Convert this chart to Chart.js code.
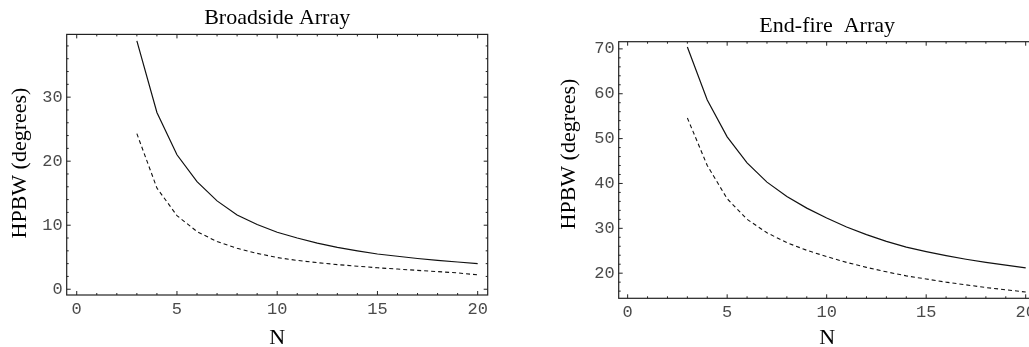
<!DOCTYPE html>
<html>
<head>
<meta charset="utf-8">
<script src="https://cdn.jsdelivr.net/npm/chart.js@4.4.1/dist/chart.umd.min.js"></script>
<style>
  html, body { margin: 0; padding: 0; background: #fff; width: 1029px; height: 347px; overflow: hidden; }
  .panel { position: absolute; top: 0; }
  #p_broad { left: 0; }
  #p_end { left: 520px; }
</style>
</head>
<body>
<div class="panel" id="p_broad"><canvas id="c_broad" width="520" height="347"></canvas></div>
<div class="panel" id="p_end"><canvas id="c_end" width="520" height="347"></canvas></div>
<script>
// HPBW vs number of elements N, for broadside and end-fire arrays
const nValues = [3, 4, 5, 6, 7, 8, 9, 10, 11, 12, 13, 14, 15, 16, 17, 18, 19, 20];

const broadsideSolid = [38.8, 27.6, 21.0, 16.8, 13.8, 11.6, 10.1, 8.9, 8.0, 7.2, 6.55, 6.0, 5.5, 5.15, 4.8, 4.5, 4.25, 4.0];
const broadsideDashed = [24.3, 15.8, 11.5, 9.0, 7.45, 6.4, 5.6, 4.95, 4.5, 4.15, 3.85, 3.6, 3.35, 3.15, 2.95, 2.75, 2.55, 2.25];

const endfireSolid = [70.4, 58.6, 50.4, 44.6, 40.3, 37.1, 34.5, 32.3, 30.3, 28.6, 27.1, 25.8, 24.8, 23.9, 23.1, 22.4, 21.8, 21.2];
const endfireDashed = [54.6, 44.0, 36.6, 32.0, 29.0, 26.8, 25.1, 23.7, 22.4, 21.3, 20.3, 19.4, 18.7, 18.0, 17.4, 16.8, 16.3, 15.8];

const xTicks = [0, 5, 10, 15, 20];
const broadYTicks = [0, 10, 20, 30];
const endYTicks = [20, 30, 40, 50, 60, 70];

const serif = 'Liberation Serif, Times New Roman, serif';
const mono = 'Liberation Mono, Courier New, monospace';

const pts = ys => nValues.map((n, i) => ({ x: n, y: ys[i] }));

// mathematica-style frame: box around the plot, small ticks pointing inward on all four sides
const framePlugin = {
  id: 'frame',
  afterDatasetsDraw(chart, args, o) {
    const { ctx, chartArea: a, scales } = chart;
    const x = scales.x, y = scales.y;
    ctx.save();
    ctx.strokeStyle = '#222';
    ctx.lineWidth = 1.2;
    ctx.strokeRect(a.left, a.top, a.right - a.left, a.bottom - a.top);
    ctx.lineWidth = 1;
    ctx.beginPath();
    for (let v = 0; v <= 20; v++) {
      const px = x.getPixelForValue(v);
      const len = v % 5 === 0 ? 4 : 2;
      ctx.moveTo(px, a.bottom); ctx.lineTo(px, a.bottom - len);
      ctx.moveTo(px, a.top); ctx.lineTo(px, a.top + len);
    }
    for (let v = o.yFrom; v <= o.yTo; v += 2) {
      const py = y.getPixelForValue(v);
      const len = v % 10 === 0 ? 4 : 2;
      ctx.moveTo(a.left, py); ctx.lineTo(a.left + len, py);
      ctx.moveTo(a.right, py); ctx.lineTo(a.right - len, py);
    }
    ctx.stroke();

    // rotated y caption
    ctx.fillStyle = '#000';
    ctx.font = '22px ' + serif;
    ctx.textAlign = 'center';
    ctx.textBaseline = 'middle';
    ctx.translate(o.captionX, o.captionY);
    ctx.rotate(-Math.PI / 2);
    ctx.fillText('HPBW (degrees)', 0, 0);
    ctx.restore();
  },
};

function makeChart(id, cfg) {
  return new Chart(document.getElementById(id), {
    type: 'scatter',
    data: {
      datasets: [
        { data: pts(cfg.solid), showLine: true, borderColor: '#111', borderWidth: 1.2, pointRadius: 0, tension: 0 },
        { data: pts(cfg.dashed), showLine: true, borderColor: '#111', borderWidth: 1.1, borderDash: [4, 3], pointRadius: 0, tension: 0 },
      ],
    },
    options: {
      responsive: false,
      animation: false,
      layout: { padding: { left: 0, right: cfg.padRight, top: 0, bottom: 0 } },
      plugins: {
        legend: { display: false },
        tooltip: { enabled: false },
        title: {
          display: true,
          text: cfg.title,
          fullSize: false,
          color: '#000',
          font: { family: serif, size: 22, weight: 'normal' },
          padding: cfg.titlePad,
        },
        frame: cfg.frame,
      },
      scales: {
        x: {
          type: 'linear',
          min: cfg.xMin,
          max: 20.5,
          grid: { display: false, drawTicks: false },
          border: { display: false },
          afterBuildTicks: s => { s.ticks = xTicks.map(v => ({ value: v })); },
          afterFit: s => { s.height = cfg.xHeight; },
          ticks: { color: '#4a4a4a', padding: 4, font: { family: mono, size: 17 } },
          title: {
            display: true,
            text: 'N',
            color: '#000',
            font: { family: serif, size: 22, lineHeight: 0.8 },
            padding: 0,
          },
        },
        y: {
          type: 'linear',
          min: cfg.yMin,
          max: cfg.yMax,
          grid: { display: false, drawTicks: false },
          border: { display: false },
          afterBuildTicks: s => { s.ticks = cfg.yTicks.map(v => ({ value: v })); },
          afterFit: s => { s.width = cfg.yWidth; },
          ticks: { color: '#4a4a4a', padding: 4, font: { family: mono, size: 17 } },
        },
      },
    },
    plugins: [framePlugin],
  });
}

makeChart('c_broad', {
  title: 'Broadside Array',
  solid: broadsideSolid,
  dashed: broadsideDashed,
  xMin: -0.5,
  yMin: -0.9,
  yMax: 39.8,
  yTicks: broadYTicks,
  yWidth: 66.7,
  xHeight: 52,
  padRight: 32.3,
  titlePad: { top: 5, bottom: 3 },
  frame: { yFrom: 0, yTo: 38, captionX: 20, captionY: 163 },
});

makeChart('c_end', {
  title: 'End-fire  Array',
  solid: endfireSolid,
  dashed: endfireDashed,
  xMin: -0.45,
  yMin: 14.4,
  yMax: 71.6,
  yTicks: endYTicks,
  yWidth: 98.7,
  xHeight: 48.7,
  padRight: 2.3,
  titlePad: { top: 12.6, bottom: 2.7 },
  frame: { yFrom: 16, yTo: 70, captionX: 49, captionY: 154 },
});
</script>
</body>
</html>
